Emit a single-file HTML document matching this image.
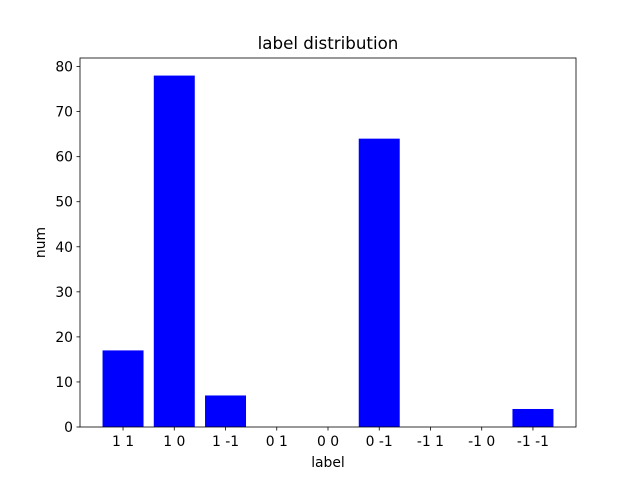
<!DOCTYPE html>
<html><head><meta charset="utf-8"><style>body{margin:0;background:#fff}svg{display:block;font-family:"DejaVu Sans","Liberation Sans",sans-serif}</style></head>
<body>
<svg id="chart" width="640" height="480">
<rect x="0" y="0" width="640" height="480" fill="#fff"/>
<g id="bars"></g><g id="axes"></g>
</svg>
<script>
const categories=["1 1","1 0","1 -1","0 1","0 0","0 -1","-1 1","-1 0","-1 -1"];
const values=[17,78,7,0,0,64,0,0,4];
const yTicks=[0,10,20,30,40,50,60,70,80];
const L=80,R=576,T=58,B=427;
const n=categories.length;
const x0=-0.84,x1=n-1+0.84;
const ymax=Math.max(...values)*1.05;
const sx=v=>L+(v-x0)/(x1-x0)*(R-L);
const sy=v=>B-v/ymax*(B-T);
const NS="http://www.w3.org/2000/svg";
const bars=document.getElementById('bars'),axes=document.getElementById('axes');
function mk(tag,attrs,parent,text){const e=document.createElementNS(NS,tag);for(const k in attrs)e.setAttribute(k,attrs[k]);if(text!=null)e.textContent=text;parent.appendChild(e);return e;}
values.forEach((v,i)=>{
 const r=mk('rect',{x:sx(i-0.4),y:sy(v),width:sx(i+0.4)-sx(i-0.4),height:B-sy(v),fill:'#0000ff'},bars);
 
 
});
const frame=mk('rect',{x:L,y:T,width:R-L,height:B-T,fill:'none',stroke:'#000','stroke-width':0.8},axes);


categories.forEach((c,i)=>{
 const x=sx(i);
 mk('line',{x1:x,x2:x,y1:B,y2:B+3.5,stroke:'#000','stroke-width':0.8},axes);
 const t=mk('text',{x:x,y:B+19,'text-anchor':'middle','font-size':13.9},axes,c);
 
 
});
yTicks.forEach(v=>{
 const y=sy(v);
 mk('line',{x1:L-3.5,x2:L,y1:y,y2:y,stroke:'#000','stroke-width':0.8},axes);
 const t=mk('text',{x:L-7,y:y+5,'text-anchor':'end','font-size':13.9},axes,String(v));
 
 
});
const xt=mk('text',{x:(L+R)/2,y:B+40,'text-anchor':'middle','font-size':13.9},axes,'label');


const yt=mk('text',{x:0,y:0,'text-anchor':'middle','font-size':13.9,transform:`translate(45,${(T+B)/2}) rotate(-90)`},axes,'num');


const tt=mk('text',{x:(L+R)/2,y:T-9,'text-anchor':'middle','font-size':16.7},axes,'label distribution');


</script>
</body></html>
